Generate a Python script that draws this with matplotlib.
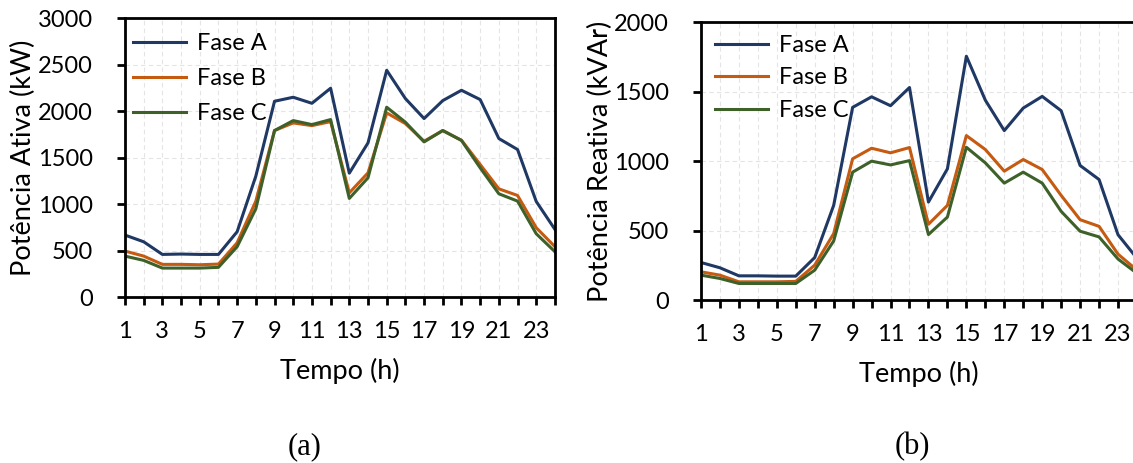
import matplotlib
matplotlib.use("Agg")
import matplotlib.pyplot as plt
from matplotlib.ticker import MultipleLocator

plt.rcParams['font.family'] = ['Lato', 'DejaVu Sans']

horas = list(range(1, 25))

# potencia ativa (kW) por fase
ativa_a = [666, 594, 458, 462, 458, 458, 702, 1300, 2105, 2148, 2083, 2245,
           1332, 1657, 2438, 2134, 1919, 2112, 2223, 2123, 1704, 1586, 1027, 727]
ativa_b = [494, 440, 351, 351, 347, 354, 583, 1031, 1790, 1872, 1843, 1886,
           1120, 1335, 1980, 1865, 1675, 1790, 1686, 1425, 1163, 1092, 745, 541]
ativa_c = [440, 394, 311, 311, 311, 319, 541, 949, 1790, 1897, 1854, 1908,
           1060, 1282, 2041, 1880, 1668, 1790, 1683, 1389, 1110, 1031, 680, 487]

# potencia reativa (kVAr) por fase
reativa_a = [270, 232, 174, 174, 172, 172, 306, 681, 1386, 1462, 1398, 1529,
             705, 944, 1754, 1438, 1219, 1381, 1465, 1362, 968, 867, 470, 300]
reativa_b = [203, 179, 131, 131, 131, 134, 251, 478, 1016, 1092, 1059, 1097,
             545, 681, 1183, 1083, 927, 1011, 939, 753, 578, 530, 330, 215]
reativa_c = [179, 155, 119, 119, 119, 119, 215, 425, 920, 999, 972, 1003,
             471, 597, 1099, 987, 841, 920, 841, 638, 495, 454, 295, 192]

fases = ['Fase A', 'Fase B', 'Fase C']
cores = ['#1F3864', '#C55A11', '#3E6029']

fig = plt.figure(figsize=(11.33, 4.63), dpi=100)
ax1 = fig.add_axes([0.1103, 0.3585, 0.3795, 0.6026])
ax2 = fig.add_axes([0.6187, 0.3520, 0.3848, 0.6004])


def desenha(ax, series, ymax, ylabel, leg_pos, leg_esp):
    for serie, nome, cor in zip(series, fases, cores):
        ax.plot(horas, serie, color=cor, lw=2.2, label=nome)
    ax.set_xlim(1, 24)
    ax.set_ylim(0, ymax)
    ax.set_xticks(horas)
    ax.set_xticklabels([str(h) if h % 2 == 1 else '' for h in horas])
    ax.yaxis.set_major_locator(MultipleLocator(500))
    ax.grid(True, color='#E4E4E4', linestyle=(0, (4, 3)), lw=0.8)
    ax.set_axisbelow(True)
    for s in ax.spines.values():
        s.set_linewidth(2.0)
        s.set_color('black')
    ax.tick_params(axis='both', direction='out', length=6, width=2.0,
                   labelsize=17)
    ax.tick_params(axis='y', pad=17)
    ax.tick_params(axis='x', pad=11)
    ax.set_xlabel('Tempo (h)', fontsize=19.5, labelpad=12)
    ax.set_ylabel(ylabel, fontsize=19.5, labelpad=1)
    ax.legend(loc='upper left', bbox_to_anchor=leg_pos, frameon=False,
              fontsize=17, handlelength=2.25, handletextpad=0.47,
              labelspacing=leg_esp, borderaxespad=0, borderpad=0)


desenha(ax1, [ativa_a, ativa_b, ativa_c], 3000, 'Potência Ativa (kW)',
        (0.0186, 0.946), 0.6)
desenha(ax2, [reativa_a, reativa_b, reativa_c], 2000, 'Potência Reativa (kVAr)',
        (0.032, 0.953), 0.48)

fig.text(0.269, 0.036, '(a)', fontsize=22, family='Liberation Serif',
         ha='center', va='center')
fig.text(0.805, 0.036, '(b)', fontsize=22, family='Liberation Serif',
         ha='center', va='center')

fig.savefig('out.png', dpi=100)
